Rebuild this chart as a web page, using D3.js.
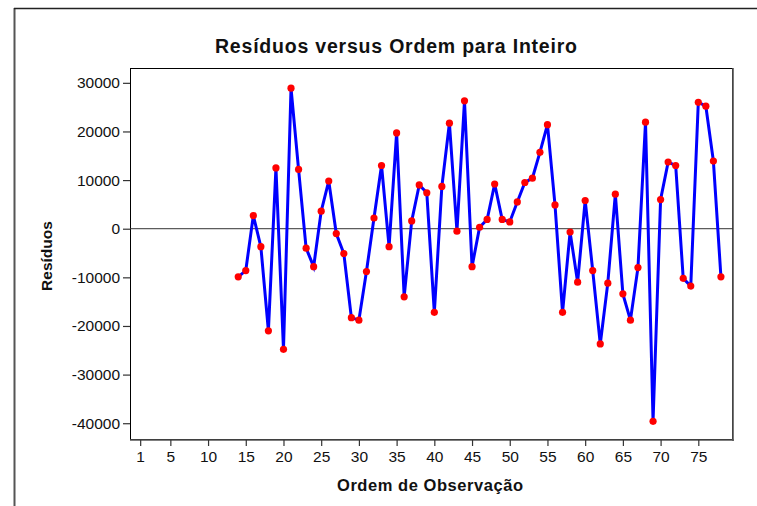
<!DOCTYPE html>
<html><head><meta charset="utf-8">
<script src="https://cdn.jsdelivr.net/npm/d3@7"></script>
<style>html,body{margin:0;padding:0;background:#fff;}svg{display:block;}</style>
</head><body>
<svg id="c" width="757" height="506"></svg>
<script>
const startObs = 14;
const residuals = [
  -9900, -8600, 2700, -3700, -21000, 12500, -24800, 28900, 12200, -4000,
  -7800, 3600, 9800, -1000, -5100, -18300, -18800, -8800, 2200, 13000,
  -3700, 19700, -14000, 1600, 9000, 7400, -17200, 8700, 21700, -500,
  26300, -7800, 300, 1900, 9200, 1900, 1400, 5500, 9500, 10400,
  15700, 21400, 4900, -17200, -700, -11000, 5800, -8600, -23700, -11200,
  7100, -13400, -18800, -8000, 21900, -39600, 6000, 13700, 13000, -10200,
  -11800, 26000, 25200, 13900, -9900
];
const xTicks = [1,5,10,15,20,25,30,35,40,45,50,55,60,65,70,75];
const yTicks = [30000,20000,10000,0,-10000,-20000,-30000,-40000];
const title = "Resíduos versus Ordem para Inteiro";
const xLabel = "Ordem de Observação";
const yLabel = "Resíduos";

const data = residuals.map((v,i)=>({obs:startObs+i, r:v}));
const svg = d3.select("#c");
const font = "'Liberation Sans', Arial, sans-serif";
const L=130, T=68, R=733, B=440;

// outer border
svg.append("line").attr("x1",14.5).attr("x2",14.5).attr("y1",8).attr("y2",506).attr("stroke","#555").attr("stroke-width",2);
svg.append("line").attr("x1",14).attr("x2",757).attr("y1",8.5).attr("y2",8.5).attr("stroke","#222").attr("stroke-width",1.5);

const x = d3.scaleLinear().domain([-0.35,79.6]).range([L,R]);
const y = d3.scaleLinear().domain([-43450,33050]).range([B,T]);

// frame
svg.append("rect").attr("x",L+0.5).attr("y",T+0.5).attr("width",R-L-1).attr("height",B-T-1)
  .attr("fill","none").attr("stroke","#000").attr("stroke-width",1);
svg.append("line").attr("x1",R).attr("x2",R).attr("y1",T).attr("y2",B+1).attr("stroke","#555").attr("stroke-width",1.6);
svg.append("line").attr("x1",L).attr("x2",R+0.8).attr("y1",B).attr("y2",B).attr("stroke","#555").attr("stroke-width",1.6);

// axes
const yAx = svg.append("g").attr("transform",`translate(${L},0)`)
  .call(d3.axisLeft(y).tickValues(yTicks).tickSize(7).tickPadding(3).tickFormat(d=>String(d)));
const xAx = svg.append("g").attr("transform",`translate(0,${B})`)
  .call(d3.axisBottom(x).tickValues(xTicks).tickSize(6).tickPadding(5).tickFormat(d=>String(d)));
[yAx,xAx].forEach(g=>{
  g.select(".domain").remove();
  g.selectAll(".tick line").attr("stroke","#333").attr("stroke-width",1.2);
  g.selectAll("text").attr("font-family",font).attr("font-size",15.5).attr("fill","#111");
});

// zero reference
svg.append("line").attr("x1",L).attr("x2",R).attr("y1",y(0)).attr("y2",y(0)).attr("stroke","#333").attr("stroke-width",1);

// line
svg.append("path").datum(data)
  .attr("d",d3.line().x(d=>x(d.obs)).y(d=>y(d.r)))
  .attr("fill","none").attr("stroke","#0000ff").attr("stroke-width",3);
svg.append("g").selectAll("circle").data(data).join("circle")
  .attr("cx",d=>x(d.obs)).attr("cy",d=>y(d.r)).attr("r",3.6).attr("fill","#ff0000");

// texts
svg.append("text").attr("x",215).attr("y",52.5)
  .attr("textLength",362).attr("lengthAdjust","spacing")
  .attr("font-family",font).attr("font-weight","bold").attr("font-size",19.5).attr("fill","#111").text(title);
svg.append("text").attr("x",337).attr("y",491)
  .attr("textLength",186).attr("lengthAdjust","spacing")
  .attr("font-family",font).attr("font-weight","bold").attr("font-size",16.5).attr("fill","#111").text(xLabel);
svg.append("text").attr("transform","translate(52,256) rotate(-90)").attr("text-anchor","middle")
  .attr("font-family",font).attr("font-weight","bold").attr("font-size",15.5).attr("fill","#111").text(yLabel);
</script>
</body></html>
